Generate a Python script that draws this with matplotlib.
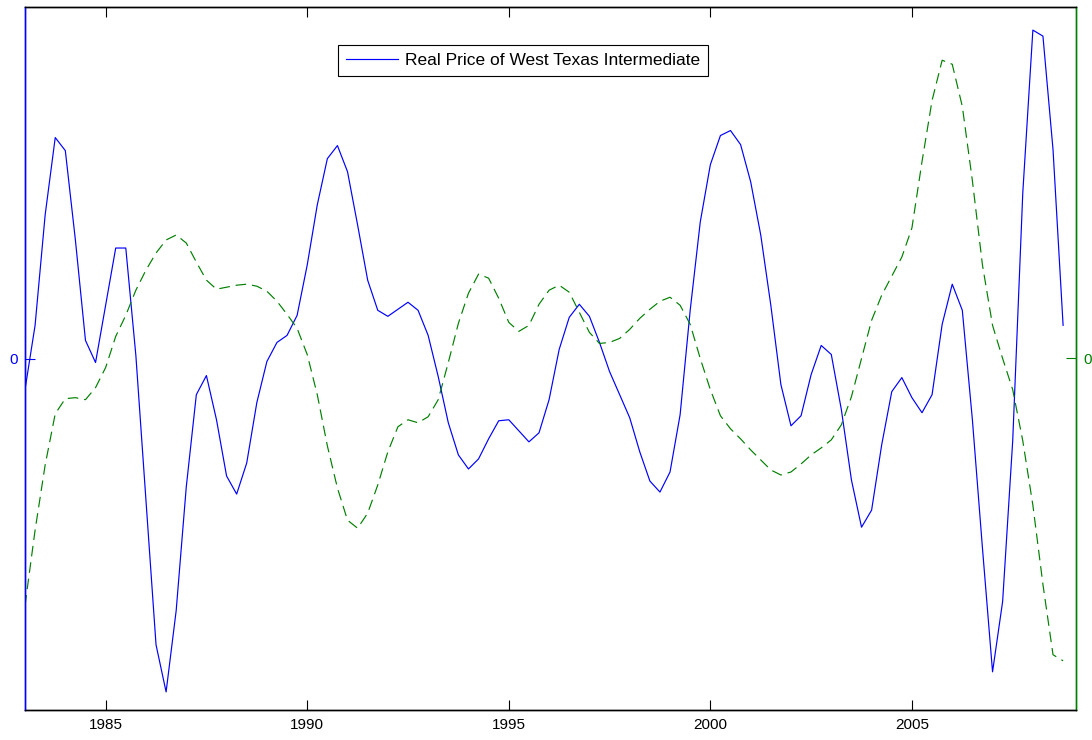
import numpy as np
import matplotlib
matplotlib.use("Agg")
import matplotlib.pyplot as plt

# quarterly dates 1983Q1 .. 2008Q4
start_year = 1983.0
n_quarters = 104

# real price of WTI (cyclical component)
wti = [-3.1, 3.3, 14.3, 22.0, 20.7, 11.8, 1.8, -0.4, 5.3, 11.0,
       11.0, 0.3, -14.1, -28.5, -33.2, -25.1, -12.8, -3.6, -1.7, -6.1,
       -11.7, -13.5, -10.4, -4.4, -0.3, 1.6, 2.3, 4.3, 9.3, 15.3,
       19.9, 21.2, 18.6, 13.3, 7.8, 4.8, 4.2, 4.9, 5.6, 4.8,
       2.3, -1.8, -6.4, -9.6, -11.0, -10.0, -8.0, -6.2, -6.1, -7.2,
       -8.3, -7.4, -4.1, 0.9, 4.1, 5.4, 4.2, 1.6, -1.3, -3.6,
       -5.9, -9.3, -12.2, -13.3, -11.3, -5.6, 4.8, 13.6, 19.3, 22.2,
       22.7, 21.3, 17.6, 12.3, 5.3, -2.6, -6.7, -5.7, -1.6, 1.3,
       0.4, -5.1, -12.1, -16.8, -15.1, -8.6, -3.3, -1.9, -3.9, -5.4,
       -3.6, 3.4, 7.4, 4.8, -6.1, -18.9, -31.2, -24.2, -8.2, 16.5,
       32.7, 32.1, 20.8, 3.3]

# second series (right axis)
other = [-2.46, -1.71, -1.06, -0.55, -0.40, -0.39, -0.41, -0.29, -0.09, 0.22,
         0.43, 0.68, 0.88, 1.05, 1.18, 1.23, 1.15, 0.96, 0.78, 0.69,
         0.71, 0.73, 0.74, 0.72, 0.67, 0.57, 0.44, 0.30, 0.04, -0.36,
         -0.87, -1.29, -1.61, -1.69, -1.54, -1.26, -0.93, -0.68, -0.61, -0.64,
         -0.58, -0.41, -0.04, 0.35, 0.65, 0.84, 0.80, 0.60, 0.36, 0.27,
         0.33, 0.54, 0.68, 0.73, 0.66, 0.46, 0.26, 0.15, 0.16, 0.20,
         0.29, 0.40, 0.49, 0.57, 0.61, 0.53, 0.34, 0.00, -0.31, -0.57,
         -0.70, -0.80, -0.91, -1.01, -1.11, -1.16, -1.13, -1.05, -0.96, -0.89,
         -0.81, -0.66, -0.38, 0.00, 0.38, 0.63, 0.82, 1.01, 1.30, 1.96,
         2.57, 2.97, 2.93, 2.51, 1.77, 0.93, 0.33, 0.00, -0.31, -0.82,
         -1.46, -2.25, -2.95, -3.01]

xticks = [1985, 1990, 1995, 2000, 2005]
legend_label = "Real Price of West Texas Intermediate"

blue = (0, 0, 1)
green = (0, 0.5, 0)

plt.rcParams['font.family'] = ['Liberation Sans', 'DejaVu Sans']

t = start_year + np.arange(n_quarters) / 4.0

fig = plt.figure(figsize=(10.92, 7.40), dpi=100)
ax1 = fig.add_axes([25/1092, 1-710/740, (1076-25)/1092, (710-7)/740])
ax2 = ax1.twinx()

l1, = ax1.plot(t, wti, color=blue, lw=0.85)
ax2.plot(t, other, color=green, lw=0.85, linestyle=(0, (9, 5)))

ax1.set_xlim(1983.0, 2009.07)
ax1.set_ylim(-35, 35)
ax2.set_ylim(-3.5, 3.5)

ax1.set_xticks(xticks)
ax1.set_xticklabels([str(x) for x in xticks])
ax1.set_yticks([0])
ax2.set_yticks([0])

ax1.tick_params(axis='x', direction='in', length=7, width=0.8, top=True,
                labelsize=11, colors='black', pad=6)
ax1.tick_params(axis='y', direction='in', length=7, width=0.8,
                labelsize=11, colors=blue, pad=5)
ax2.tick_params(axis='y', direction='in', length=7, width=0.8,
                labelsize=11, colors=green, pad=5)

for a in (ax1, ax2):
    for s in a.spines.values():
        s.set_linewidth(1.0)
    a.spines['top'].set_color('black')
    a.spines['bottom'].set_color('black')
    a.spines['left'].set_color(blue)
    a.spines['right'].set_color(green)

leg = ax1.legend([l1], [legend_label], loc='upper center',
                 bbox_to_anchor=(0.474, 0.946), borderaxespad=0,
                 fancybox=False, framealpha=1, edgecolor='black',
                 fontsize=12.5, handlelength=3.0, borderpad=0.45,
                 handletextpad=0.4)
leg.get_frame().set_linewidth(0.8)
leg.set_zorder(5)

fig.savefig("out.png", dpi=100)
